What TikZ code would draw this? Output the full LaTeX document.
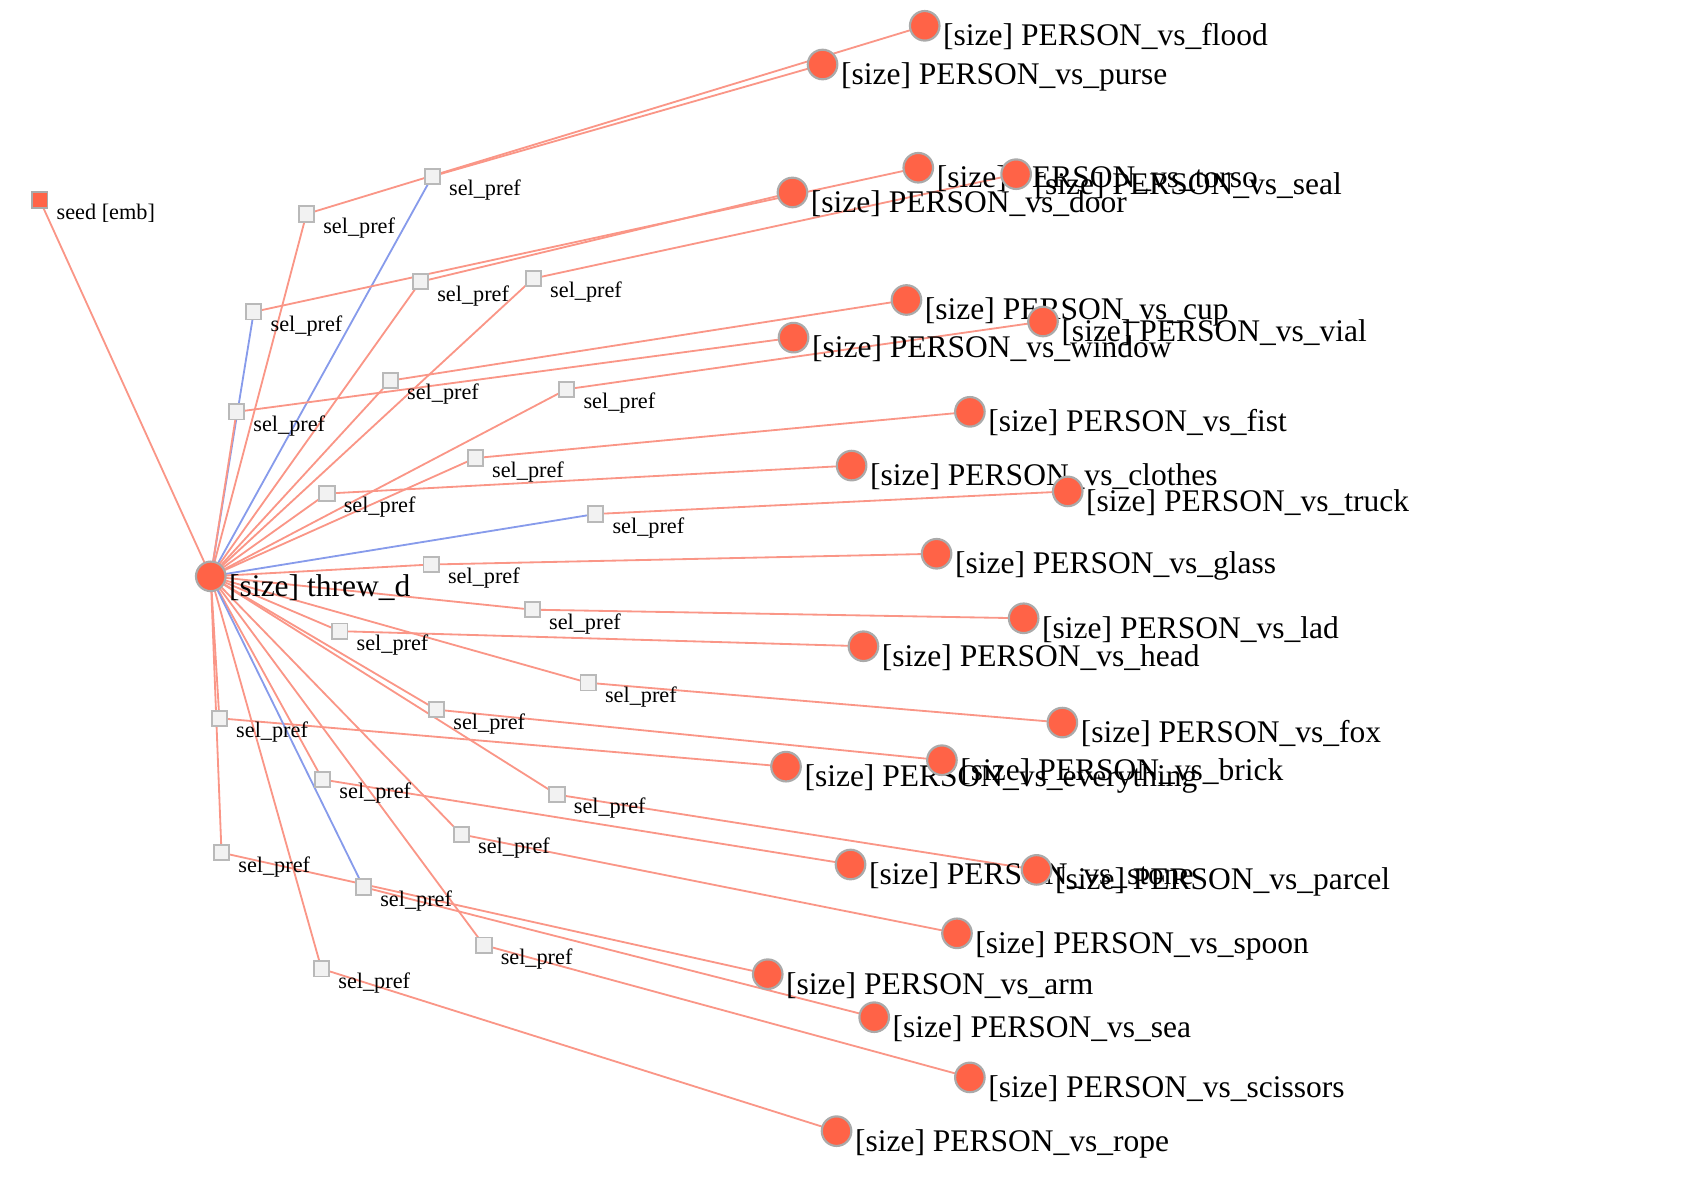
\documentclass[tikz,border=0pt]{standalone}
\usepackage{fontspec}
\setmainfont{Liberation Serif}
\pgfdeclarelayer{edgelayer}
\pgfsetlayers{edgelayer,main}
\definecolor{edgeR}{RGB}{250,150,135}
\definecolor{edgeB}{RGB}{135,155,235}
\definecolor{nodeF}{RGB}{255,99,71}
\definecolor{nodeS}{RGB}{170,170,170}
\definecolor{sqF}{RGB}{242,242,242}
\definecolor{sqS}{RGB}{185,185,185}
\tikzset{
 pnode/.style={circle, fill=nodeF, draw=nodeS, line width=2pt, minimum size=27.5pt, inner sep=0pt},
 snode/.style={rectangle, fill=sqF, draw=sqS, line width=1.8pt, minimum size=14.3pt, inner sep=0pt},
 seednode/.style={rectangle, fill=nodeF, draw=nodeS, line width=1.8pt, minimum size=14.3pt, inner sep=0pt},
 biglbl/.style={anchor=base west, inner sep=0pt, font=\fontsize{29.3}{30}\selectfont},
 smalllbl/.style={anchor=base west, inner sep=0pt, font=\fontsize{20.7}{22}\selectfont},
 redge/.style={draw=edgeR, line width=1.7pt},
 bedge/.style={draw=edgeB, line width=1.7pt},
}
\newcommand\PN[4]{\node[pnode] (#1) at (#2,#3) {}; \node[biglbl] (#1L) at (#2+17,#3+18.5) {#4};}
\newcommand\SN[3]{\node[snode] (#1) at (#2,#3) {}; \node[smalllbl] (#1L) at (#2+15.5,#3+18) {sel\_pref};}
\newcommand\RE[2]{\begin{pgfonlayer}{edgelayer}\draw[redge] (#1.center) -- (#2.center);\end{pgfonlayer}}
\newcommand\BE[2]{\begin{pgfonlayer}{edgelayer}\draw[bedge] (#1.center) -- (#2.center);\end{pgfonlayer}}
\begin{document}
\begin{tikzpicture}[x=1pt,y=-1pt]
\useasboundingbox (0,0) rectangle (1568,1097);
% seed
\node[seednode] (seed) at (37,186) {};
\node[smalllbl] (seedL) at (37+15.5,186+18) {seed [emb]};
% squares
\SN{s1}{402}{164}
\SN{s2}{285}{199}
\SN{s3}{236}{290}
\SN{s4}{391}{262}
\SN{s5}{496}{259}
\SN{s6}{220}{383}
\SN{s7}{363}{354}
\SN{s8}{527}{362}
\SN{s9}{442}{426}
\SN{s10}{304}{459}
\SN{s11}{554}{478}
\SN{s12}{401}{525}
\SN{s13}{495}{567}
\SN{s14}{316}{587}
\SN{s15}{547}{635}
\SN{s16}{406}{660}
\SN{s17}{204}{668}
\SN{s18}{300}{725}
\SN{s19}{518}{739}
\SN{s20}{429}{776}
\SN{s21}{206}{793}
\SN{s22}{338}{825}
\SN{s23}{450}{879}
\SN{s24}{299}{901}
% hub
\PN{hub}{196}{536}{[size] threw\_d}
% persons
\PN{flood}{860}{24}{[size] PERSON\_vs\_flood}
\PN{purse}{765}{60}{[size] PERSON\_vs\_purse}
\PN{door}{737}{179}{[size] PERSON\_vs\_door}
\PN{torso}{854}{156}{[size] PERSON\_vs\_torso}
\PN{seal}{945}{162}{[size] PERSON\_vs\_seal}
\PN{window}{738}{314}{[size] PERSON\_vs\_window}
\PN{cup}{843}{279}{[size] PERSON\_vs\_cup}
\PN{vial}{970}{299}{[size] PERSON\_vs\_vial}
\PN{fist}{902}{383}{[size] PERSON\_vs\_fist}
\PN{clothes}{792}{433}{[size] PERSON\_vs\_clothes}
\PN{truck}{993}{457}{[size] PERSON\_vs\_truck}
\PN{glass}{871}{515}{[size] PERSON\_vs\_glass}
\PN{lad}{952}{575}{[size] PERSON\_vs\_lad}
\PN{head}{803}{601}{[size] PERSON\_vs\_head}
\PN{fox}{988}{672}{[size] PERSON\_vs\_fox}
\PN{everything}{731}{713}{[size] PERSON\_vs\_everything}
\PN{brick}{876}{707}{[size] PERSON\_vs\_brick}
\PN{stone}{791}{804}{[size] PERSON\_vs\_stone}
\PN{parcel}{964}{809}{[size] PERSON\_vs\_parcel}
\PN{spoon}{890}{868}{[size] PERSON\_vs\_spoon}
\PN{arm}{714}{906}{[size] PERSON\_vs\_arm}
\PN{sea}{813}{946}{[size] PERSON\_vs\_sea}
\PN{scissors}{902}{1002}{[size] PERSON\_vs\_scissors}
\PN{rope}{778}{1052}{[size] PERSON\_vs\_rope}
% edges
\RE{seed}{hub}
\BE{hub}{s1}\RE{s1}{purse}
\RE{hub}{s2}\RE{s2}{flood}
\BE{hub}{s3}\RE{s3}{torso}
\RE{hub}{s4}\RE{s4}{door}
\RE{hub}{s5}\RE{s5}{seal}
\RE{hub}{s6}\RE{s6}{window}
\RE{hub}{s7}\RE{s7}{cup}
\RE{hub}{s8}\RE{s8}{vial}
\RE{hub}{s9}\RE{s9}{fist}
\RE{hub}{s10}\RE{s10}{clothes}
\BE{hub}{s11}\RE{s11}{truck}
\RE{hub}{s12}\RE{s12}{glass}
\RE{hub}{s13}\RE{s13}{lad}
\RE{hub}{s14}\RE{s14}{head}
\RE{hub}{s15}\RE{s15}{fox}
\RE{hub}{s16}\RE{s16}{brick}
\RE{hub}{s17}\RE{s17}{everything}
\RE{hub}{s18}\RE{s18}{stone}
\RE{hub}{s19}\RE{s19}{parcel}
\RE{hub}{s20}\RE{s20}{spoon}
\RE{hub}{s21}\RE{s21}{arm}
\BE{hub}{s22}\RE{s22}{sea}
\RE{hub}{s23}\RE{s23}{scissors}
\RE{hub}{s24}\RE{s24}{rope}
\end{tikzpicture}
\end{document}
